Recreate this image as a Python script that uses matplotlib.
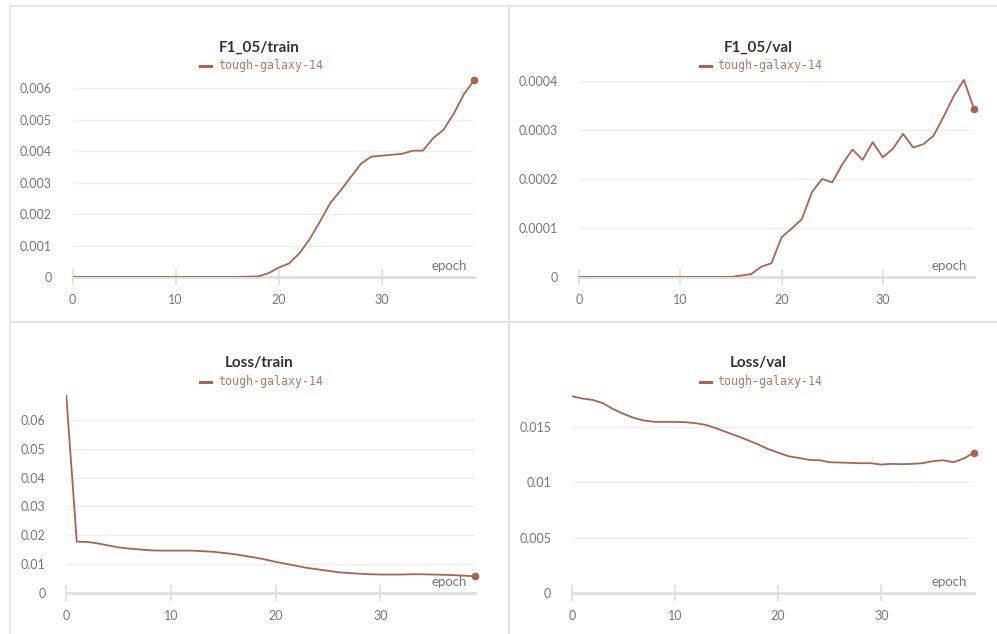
import matplotlib
matplotlib.use("Agg")
import matplotlib.pyplot as plt
from matplotlib.lines import Line2D

# data per epoch
epochs = list(range(40))
run_name = "tough-galaxy-14"

f1_train = [0, 0, 0, 0, 0, 0, 0, 0, 0, 0,
            0, 0, 0, 0, 0, 0, 0, 0.00001, 0.00002, 0.00012,
            0.0003, 0.00043, 0.00075, 0.0012, 0.00176, 0.00235, 0.00275, 0.00318, 0.00361, 0.00383,
            0.00386, 0.00389, 0.00392, 0.00402, 0.00402, 0.00442, 0.00468, 0.0052, 0.00583, 0.00627]

f1_val = [0, 0, 0, 0, 0, 0, 0, 0, 0, 0,
          0, 0, 0, 0, 0, 0, 0.000003, 0.000006, 0.000021, 0.000028,
          0.000081, 0.000099, 0.000118, 0.000173, 0.0002, 0.000193, 0.00023, 0.00026, 0.000239, 0.000275,
          0.000244, 0.000262, 0.000292, 0.000264, 0.000271, 0.000288, 0.000327, 0.000369, 0.000402, 0.000343]

loss_train = [0.0684, 0.0178, 0.0177, 0.0172, 0.0165, 0.0158, 0.0154, 0.0151, 0.0148, 0.0147,
              0.0147, 0.0147, 0.0147, 0.0145, 0.0143, 0.0139, 0.0135, 0.0129, 0.0123, 0.0116,
              0.0108, 0.0101, 0.0094, 0.0087, 0.0082, 0.0077, 0.0072, 0.0069, 0.0067, 0.0065,
              0.0064, 0.0064, 0.0064, 0.0065, 0.0065, 0.0064, 0.0063, 0.0062, 0.0060, 0.0058]

loss_val = [0.0178, 0.01759, 0.01747, 0.01717, 0.01663, 0.0162, 0.01584, 0.0156, 0.01548, 0.01548,
            0.01548, 0.01545, 0.01536, 0.0152, 0.0149, 0.01454, 0.01421, 0.01385, 0.01346, 0.01303,
            0.0127, 0.01237, 0.01222, 0.01204, 0.01201, 0.01183, 0.0118, 0.01177, 0.01174, 0.01174,
            0.01162, 0.01168, 0.01165, 0.01168, 0.01174, 0.01192, 0.01201, 0.01183, 0.01216, 0.0127]

x_ticks = [0, 10, 20, 30]
f1_train_ticks = [0, 0.001, 0.002, 0.003, 0.004, 0.005, 0.006]
f1_train_labels = ["0", "0.001", "0.002", "0.003", "0.004", "0.005", "0.006"]
f1_val_ticks = [0, 0.0001, 0.0002, 0.0003, 0.0004]
f1_val_labels = ["0", "0.0001", "0.0002", "0.0003", "0.0004"]
loss_train_ticks = [0, 0.01, 0.02, 0.03, 0.04, 0.05, 0.06]
loss_train_labels = ["0", "0.01", "0.02", "0.03", "0.04", "0.05", "0.06"]
loss_val_ticks = [0, 0.005, 0.01, 0.015]
loss_val_labels = ["0", "0.005", "0.01", "0.015"]

LINE = "#a8644e"
LEGEND_TXT = "#b07a66"
TICK_TXT = "#76767e"
GRID = "#eeeeee"
BASE = "#dedede"

W, H = 997, 634
fig = plt.figure(figsize=(W / 100, H / 100), dpi=100)
fig.patch.set_facecolor("white")


def px_axes(left, top, right, bottom):
    # pixel box (top-left origin) -> figure fraction
    return fig.add_axes([left / W, 1 - bottom / H, (right - left) / W, (bottom - top) / H])


def panel(box, ydata, ymax, yticks, ylabels, title, cx, ty):
    ax = px_axes(*box)
    ax.plot(epochs, ydata, color=LINE, lw=1.3, solid_joinstyle="round", zorder=3)
    ax.plot(epochs[-1], ydata[-1], "o", color=LINE, ms=4.5, clip_on=False, zorder=4)
    ax.set_xlim(0, 39)
    ax.set_ylim(0, ymax)
    ax.set_xticks(x_ticks)
    ax.set_xticklabels([str(t) for t in x_ticks])
    ax.set_yticks(yticks)
    ax.set_yticklabels(ylabels)
    for t in yticks[1:]:
        ax.axhline(t, color=GRID, lw=1, zorder=1)
    for s in ["top", "right", "left"]:
        ax.spines[s].set_visible(False)
    ax.spines["bottom"].set_color(BASE)
    ax.spines["bottom"].set_linewidth(2)
    ax.tick_params(axis="x", direction="inout", length=12, width=1.2, color=BASE,
                   labelsize=9, labelcolor=TICK_TXT, pad=6)
    ax.tick_params(axis="y", length=0, labelsize=9, labelcolor=TICK_TXT, pad=15)
    for lab in ax.get_xticklabels() + ax.get_yticklabels():
        lab.set_fontfamily("Lato")
    ax.text(0.982, 0.025, "epoch", transform=ax.transAxes, ha="right", va="bottom",
            fontsize=9.5, color=TICK_TXT, family="Lato")
    # title + single legend entry, centred on the panel
    fig.text(cx / W, 1 - ty / H, title, ha="center", va="center", fontsize=11,
             fontweight="bold", color="#333333", family="Lato")
    fig.text((cx - 41) / W, 1 - (ty + 18.5) / H, run_name, ha="left", va="center",
             fontsize=8.4, color=LEGEND_TXT, family="DejaVu Sans Mono")
    fig.add_artist(Line2D([(cx - 59) / W, (cx - 48) / W], [1 - (ty + 18.5) / H] * 2,
                          color=LINE, lw=2.2))
    return ax


panel((72.7, 79, 474.4, 277), f1_train, 0.0063, f1_train_ticks, f1_train_labels,
      "F1_05/train", 259, 47.5)
panel((579, 76, 974, 277), f1_val, 0.00041, f1_val_ticks, f1_val_labels,
      "F1_05/val", 758.5, 47.5)
panel((66.3, 394, 474.6, 593), loss_train, 0.069, loss_train_ticks, loss_train_labels,
      "Loss/train", 259, 363.5)
panel((572, 394, 974, 593), loss_val, 0.018, loss_val_ticks, loss_val_labels,
      "Loss/val", 758.5, 363.5)

# panel frames
frame = "#e4e4e4"
fig.add_artist(Line2D([9.5 / W, 9.5 / W], [0, 1 - 6 / H], color=frame, lw=1.2))
fig.add_artist(Line2D([508.5 / W, 508.5 / W], [0, 1 - 6 / H], color=frame, lw=1.6))
fig.add_artist(Line2D([9.5 / W, 1], [1 - 6 / H, 1 - 6 / H], color=frame, lw=1.2))
fig.add_artist(Line2D([9.5 / W, 1], [1 - 321.5 / H] * 2, color=frame, lw=1.6))

fig.savefig("out.png", dpi=100, facecolor="white")
